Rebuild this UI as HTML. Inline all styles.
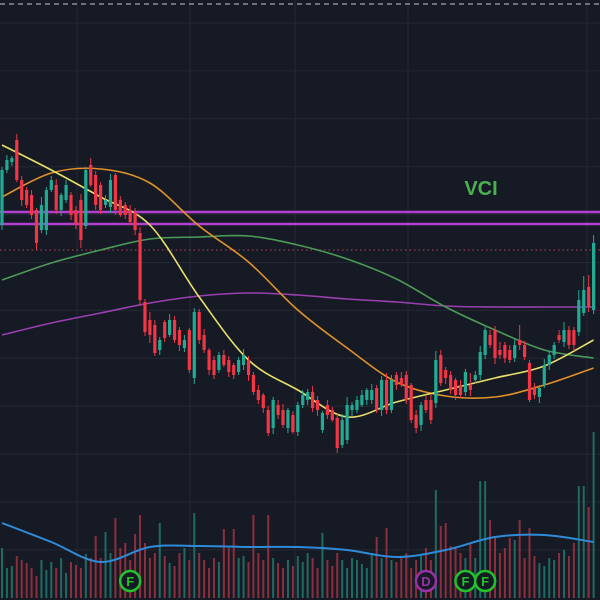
<!DOCTYPE html>
<html><head><meta charset="utf-8"><style>
html,body{margin:0;padding:0;background:#161a25;}
svg{display:block;font-family:"Liberation Sans",sans-serif;}
</style></head><body>
<svg id="chart" width="600" height="600" viewBox="0 0 600 600">
<rect x="0" y="0" width="600" height="600" fill="#161a25"/>
<g id="grid"></g>
<line x1="0" y1="4" x2="600" y2="4" stroke="#8a8e99" stroke-width="1.5" stroke-dasharray="5,4"/>
<g id="vol"></g>
<path id="volma" fill="none" stroke="#2f8ad8" stroke-width="2"/>
<g id="levels"></g>
<g id="mas"></g>
<g id="candles"></g>
<text x="481" y="195" text-anchor="middle" fill="#4caf50" font-size="20" font-weight="bold">VCI</text>
<g id="events"></g>
</svg>
<script>
const opens=[37.5,43,43.8,46,42,41,40.5,39,37,37,41,41.5,39,40,40.5,39,40,37.4,43.5,42.5,41.5,39.5,39.3,42.5,40,39.5,39,38.8,36.7,29.8,28,27.5,25,27.8,26.5,28,27,25.2,27,22.2,28.8,26.5,25,24,23,24.5,24,23.5,22.8,23.5,24,22.5,21,20.5,19,17.2,19.5,19,17.2,18.5,16.8,19.5,20,20.8,20,17,19.5,19,18.2,15.5,16,19,19,19.5,20,20,21.2,19,22,19,22.5,22.2,22.5,21.5,18.5,17.5,20,20,19.7,24.5,23,22.5,22,21.5,20.8,21.5,22,22.5,24.5,26.5,27,25,25.5,25,24.2,26,25.5,23.7,21.2,20.3,21.5,23.5,24.5,26.5,25.8,27,27,26.8,28.7,31.3,29];
const closes=[43,44,44.2,42,40,39.5,38.5,35.7,39.5,41,42,39,40.5,41.5,38.5,37.5,36,43,41.5,39.5,39,40,42,39,38.5,38.5,37.8,37,30,26.8,26.5,24.7,26,26.2,28,26,25.5,26,23,28.8,26,25,23,22.5,24.5,23.5,22.8,22.5,24,24.5,22.5,20.8,20,19.2,16.7,20,18.5,17.5,19,16.8,19.5,20.5,20.8,19.2,19,18.7,18.5,18,15.2,18,19.5,19.5,20,20.5,21,21,19,22,19,22,21.5,21.5,20,18,17.2,19.5,19,18,24,21.7,22.2,21,20.5,20.5,22.8,21,22.5,24.8,27,25.5,24.2,24.5,24.2,24,25.5,25.5,24.3,20,20.5,21.2,23.5,24.5,25.5,26,27,25.5,25.5,30,31,29.3,35.7];
const wickUp=[0.3,0.5,0.2,0.6,0.4,0.3,0.5,0.2,0.8,0.3,0.4,0.6,0.2,0.5,0.3,0.4,0.6,0.3,0.7,0.4,0.3,0.5,0.6,0.2,0.4,0.3,0.5,0.4,0.6,0.3,0.8,0.5,0.3,0.2,0.6,0.4,0.3,0.5,0.2,0.4,0.3,0.6,0.2,0.4,0.3,0.5,0.4,0.2,0.3,0.6,0.4,0.3,0.5,0.2,0.4,0.3,0.5,0.6,0.2,0.4,0.3,0.5,0.3,0.6,0.4,0.2,0.5,0.3,0.4,0.6,0.8,0.3,0.4,0.5,0.2,0.6,0.3,0.4,0.7,0.5,0.3,0.6,0.4,0.2,0.5,0.3,0.4,0.6,0.9,0.5,0.3,0.4,0.2,0.5,0.3,1.2,0.4,0.6,0.3,0.5,0.4,0.8,0.3,0.5,0.6,1.5,0.4,0.3,0.5,0.3,0.6,0.4,0.3,0.5,0.8,0.4,0.3,1.0,1.4,1.2,0.8];
const wickDn=[0.5,0.3,0.4,0.2,0.6,0.3,0.4,0.7,0.3,0.5,0.2,0.4,0.6,0.3,0.5,0.4,0.8,0.3,0.2,0.5,0.4,0.3,0.6,0.5,0.2,0.4,0.3,0.5,0.6,0.4,0.8,0.3,0.5,0.4,0.2,0.3,0.6,0.4,0.3,0.6,0.4,0.3,0.5,0.4,0.3,0.2,0.5,0.4,0.3,0.5,0.6,0.3,0.4,0.5,0.3,0.6,0.4,0.3,0.5,0.2,0.4,0.3,0.5,0.4,0.6,0.3,0.4,0.2,0.5,0.3,0.4,0.6,0.3,0.2,0.5,0.4,0.3,0.6,0.4,0.3,0.5,0.2,0.4,0.3,0.5,0.6,0.3,0.4,0.5,0.3,0.6,0.4,0.5,0.3,0.4,0.6,0.3,0.5,0.4,0.3,0.6,0.4,0.5,0.3,0.4,0.5,0.3,0.2,0.4,0.6,0.3,0.5,0.4,0.3,0.5,0.4,0.6,0.4,0.3,0.5,0.4];
const volumes=[50,30,32,42,38,35,30,22,38,28,36,30,40,25,36,33,30,44,40,62,40,66,45,80,50,55,38,64,83,55,40,45,75,42,35,32,45,50,38,85,45,38,30,40,36,69,50,69,40,42,36,83,45,38,83,40,35,30,38,32,42,36,45,40,30,65,38,32,45,38,30,40,38,34,30,45,61,40,70,38,36,40,45,30,38,42,50,38,108,72,75,52,50,45,40,55,40,117,117,78,62,45,50,60,58,78,40,70,42,35,32,40,38,45,48,42,55,112,112,91,166];
const volMA=[75,56,36,51,52,51,51,48,41,48,61,63,56];
const maFast=[45.5,43,40.3,37.5,30.3,24,21,18.3,19.8,21,22.2,23.4,26];
const maMid=[40.3,42.7,43.1,41.7,37.4,33.8,29,25.2,21.8,20.4,20.3,21.5,23.2];
const maSlow=[32,33.7,35,36.1,36.3,36.4,35.5,34.1,32.1,29.3,27,25,24.2];
const maLong=[26.5,27.7,28.7,29.7,30.4,30.7,30.5,30.1,29.8,29.4,29.3,29.3,29.3];
const levelPrices=[38.8,37.6];
const lastPrice=35;
const events=[{i:26,t:"F"},{i:86,t:"D"},{i:94,t:"F"},{i:98,t:"F"}];

const NS="http://www.w3.org/2000/svg";
const xS=i=>2+i*4.93;
const yS=p=>600-p*10;
const vS=v=>598-v;
function mk(tag,attrs,parent){const e=document.createElementNS(NS,tag);for(const k in attrs)e.setAttribute(k,attrs[k]);parent.appendChild(e);return e;}
function smooth(pts){let d="M"+pts[0][0]+","+pts[0][1];for(let i=0;i<pts.length-1;i++){const p0=pts[i-1]||pts[i],p1=pts[i],p2=pts[i+1],p3=pts[i+2]||p2;d+=" C"+(p1[0]+(p2[0]-p0[0])/6)+","+(p1[1]+(p2[1]-p0[1])/6)+" "+(p2[0]-(p3[0]-p1[0])/6)+","+(p2[1]-(p3[1]-p1[1])/6)+" "+p2[0]+","+p2[1];}return d;}

const grid=document.getElementById('grid');
[77,190,295,408,587].forEach(x=>{const l=mk('line',{x1:x,y1:0,x2:x,y2:600,stroke:'#242834','stroke-width':1},grid);

});
for(let k=0;k<12;k++){const y=23+k*47.9;const l=mk('line',{x1:0,y1:y,x2:600,y2:y,stroke:'#242834','stroke-width':1},grid);

}

const vol=document.getElementById('vol');
volumes.forEach((v,i)=>{const up=closes[i]>=opens[i];const r=mk('rect',{x:xS(i)-1,y:vS(v),width:2,height:v,fill:up?'#1f6b61':'#8c2f3c'},vol);

});
document.getElementById('volma').setAttribute('d',smooth(volMA.map((v,k)=>[xS(k*10),vS(v)])));

const lv=document.getElementById('levels');
levelPrices.forEach(p=>{const l=mk('line',{x1:0,y1:yS(p),x2:600,y2:yS(p),stroke:'#b23fd0','stroke-width':2.5},lv);

});
const lp=mk('line',{x1:0,y1:yS(lastPrice),x2:600,y2:yS(lastPrice),stroke:'#b8475a','stroke-width':1,'stroke-dasharray':'1.5,3'},lv);



const mas=document.getElementById('mas');
[[maLong,'#9a3fb0','ma-long'],[maSlow,'#4c9a58','ma-slow'],[maMid,'#e0912a','ma-mid'],[maFast,'#e8df6a','ma-fast']].forEach(([arr,c,n])=>{
const p=mk('path',{d:smooth(arr.map((v,k)=>[xS(k*10),yS(v)])),fill:'none',stroke:c,'stroke-width':1.6},mas);

});

const cg=document.getElementById('candles');
opens.forEach((o,i)=>{const c=closes[i];const up=c>=o;const col=up?'#22ab94':'#f23645';const x=xS(i);
const hi=Math.max(o,c)+(wickUp[i]||0.3),lo=Math.min(o,c)-(wickDn[i]||0.3);
const g=mk('g',{},cg);


mk('line',{x1:x,y1:yS(hi),x2:x,y2:yS(lo),stroke:col,'stroke-width':1},g);
const top=yS(Math.max(o,c)),bot=yS(Math.min(o,c));
mk('rect',{x:x-1.6,y:top,width:3.2,height:Math.max(1,bot-top),fill:col},g);});

const ev=document.getElementById('events');
events.forEach(e=>{const col=e.t==='D'?'#9c2fa8':'#22c22a';const x=xS(e.i)+(e.t==='D'?0:0);
const g=mk('g',{},ev);


mk('circle',{cx:x,cy:581,r:10,fill:'#161a25',stroke:col,'stroke-width':2.5},g);
const t=mk('text',{x:x,y:586,'text-anchor':'middle','font-size':13,'font-weight':'bold',fill:col},g);t.textContent=e.t;});
</script>
</body></html>
